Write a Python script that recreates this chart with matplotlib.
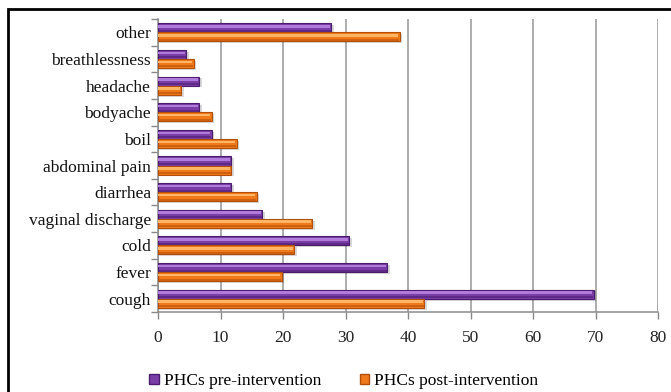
import matplotlib
matplotlib.use("Agg")
import matplotlib.pyplot as plt
import numpy as np
from matplotlib.patches import Patch, Rectangle

# Symptom categories, bottom to top
categories = ["cough", "fever", "cold", "vaginal discharge", "diarrhea",
              "abdominal pain", "boil", "bodyache", "headache",
              "breathlessness", "other"]
pre_values = [69.7, 36.7, 30.6, 16.7, 11.7, 11.7, 8.6, 6.6, 6.6, 4.5, 27.7]
post_values = [42.6, 19.8, 21.8, 24.7, 15.8, 11.7, 12.6, 8.6, 3.7, 5.7, 38.7]
x_ticks = [0, 10, 20, 30, 40, 50, 60, 70, 80]
series_names = ["PHCs pre-intervention", "PHCs post-intervention"]

plt.rcParams["font.family"] = ["Liberation Serif", "DejaVu Serif"]

fig = plt.figure(figsize=(6.71, 3.92), dpi=100)
fig.patch.set_facecolor("white")

# outer frame (top and left edges visible)
fig.patches.append(Rectangle((8 / 671, -0.2), 1.2, 1 - 9 / 392 + 0.2,
                             transform=fig.transFigure, fill=False,
                             edgecolor="black", linewidth=2.0, zorder=0))

ax = fig.add_axes([158 / 671, 1 - 312 / 392, 500 / 671, (312 - 19) / 392])

y = np.arange(len(categories))
h = 0.34

purple = dict(base="#7A3DA6", light="#B07BDB", dark="#4A1C6E")
orange = dict(base="#F07A1A", light="#FFB566", dark="#B24E06")


def shaded_bars(centers, values, c):
    # soft drop shadow
    ax.barh(centers - 0.07, np.array(values) + 0.4, height=h, left=0,
            color="#000000", alpha=0.15, linewidth=0, zorder=2)
    # body
    ax.barh(centers, values, height=h, color=c["base"],
            edgecolor=c["dark"], linewidth=0.8, zorder=3)
    # highlight strip on the upper part
    ax.barh(centers + h * 0.17, np.array(values) - 0.25, height=h * 0.28,
            color=c["light"], linewidth=0, zorder=4)
    # darker lower band
    ax.barh(centers - h * 0.33, np.array(values) - 0.1, height=h * 0.22,
            color=c["dark"], alpha=0.55, linewidth=0, zorder=4)


shaded_bars(y + h / 2, pre_values, purple)
shaded_bars(y - h / 2, post_values, orange)

ax.set_xlim(0, 80)
ax.set_ylim(-0.5, len(categories) - 0.5)
ax.set_xticks(x_ticks)
ax.set_xticklabels([str(t) for t in x_ticks], fontsize=12.5, color="#222222")
ax.set_yticks(y)
ax.set_yticklabels(categories, fontsize=12.5, color="#111111")
ax.tick_params(axis="y", which="major", length=0, pad=5)
ax.set_yticks(np.arange(-0.5, len(categories), 1.0), minor=True)
ax.tick_params(axis="y", which="minor", length=5, color="#888888", width=1)
ax.tick_params(axis="x", which="major", length=5, color="#888888",
               width=1, pad=8)

ax.grid(axis="x", color="#A6A6A6", linewidth=1.3, zorder=1)
ax.set_axisbelow(True)
for s in ["top", "right"]:
    ax.spines[s].set_visible(False)
for s in ["left", "bottom"]:
    ax.spines[s].set_color("#8C8C8C")
    ax.spines[s].set_linewidth(1.1)

handles = [Patch(facecolor=purple["base"], edgecolor=purple["dark"]),
           Patch(facecolor=orange["base"], edgecolor=orange["dark"])]
fig.legend(handles, series_names, loc="center", ncol=2,
           bbox_to_anchor=(344 / 671, 1 - 381 / 392), frameon=False,
           fontsize=12.5, handlelength=0.55, handleheight=0.55,
           handletextpad=0.3, columnspacing=2.2)

fig.savefig("out.png", dpi=100, facecolor="white")
